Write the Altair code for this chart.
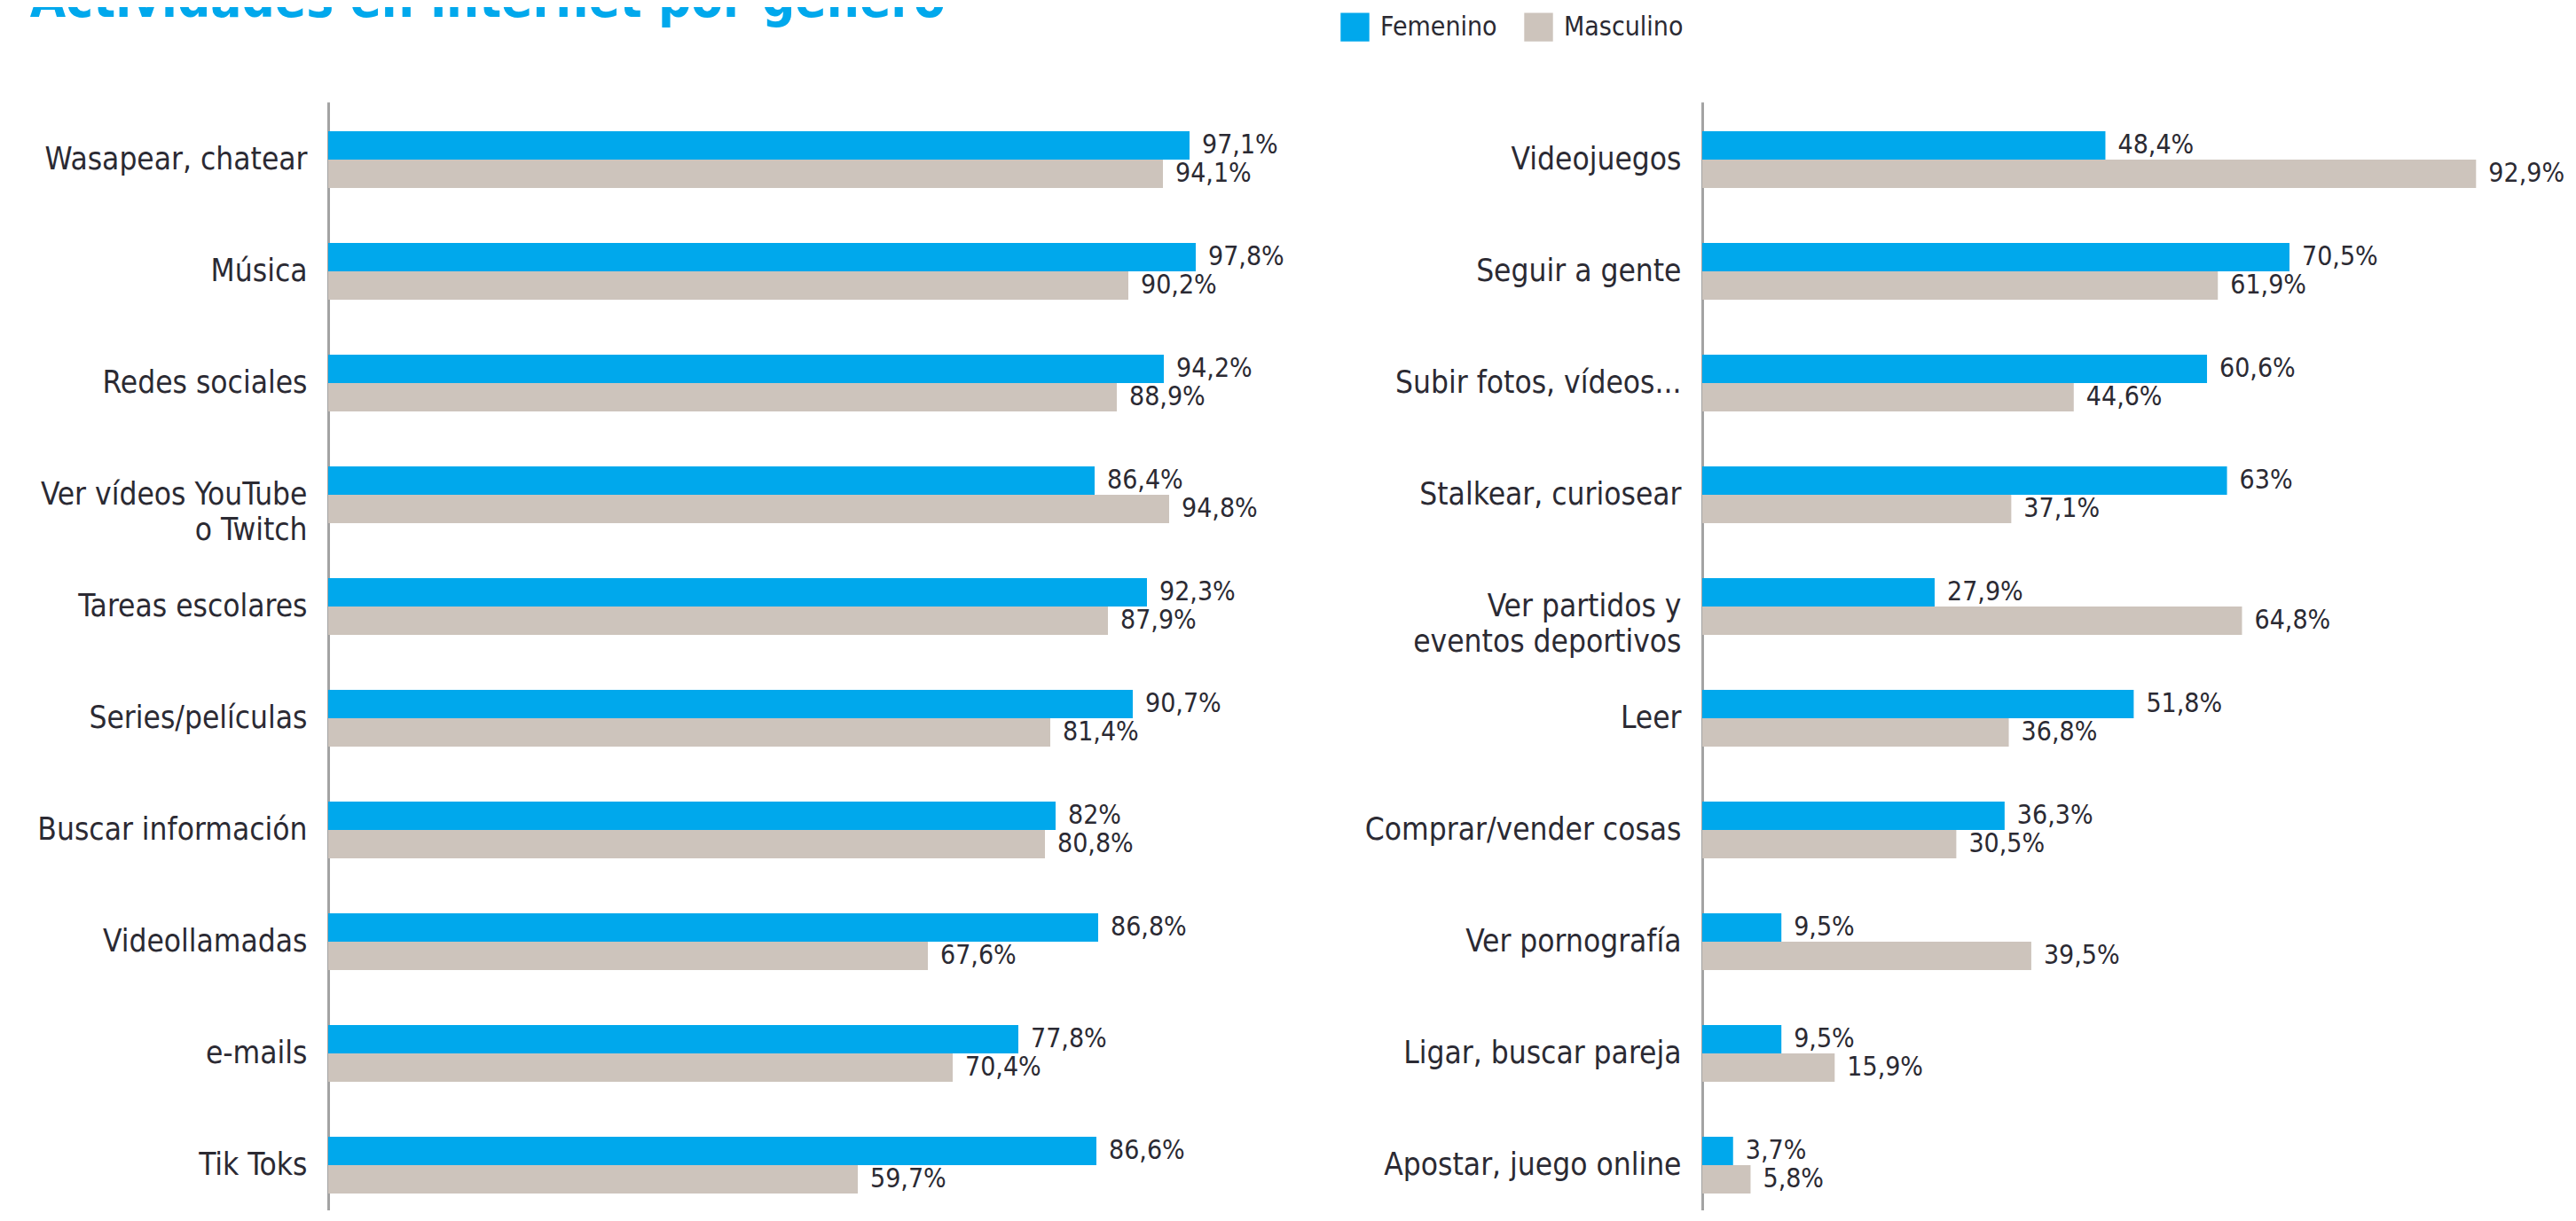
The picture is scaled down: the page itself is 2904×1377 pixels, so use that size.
import altair as alt
import pandas as pd

# ---------------- data ----------------
genders = ["Femenino", "Masculino"]

left_categories = [
    "Wasapear, chatear", "Música", "Redes sociales", "Ver vídeos YouTube|o Twitch",
    "Tareas escolares", "Series/películas", "Buscar información", "Videollamadas",
    "e-mails", "Tik Toks",
]
left_femenino = [97.1, 97.8, 94.2, 86.4, 92.3, 90.7, 82.0, 86.8, 77.8, 86.6]
left_masculino = [94.1, 90.2, 88.9, 94.8, 87.9, 81.4, 80.8, 67.6, 70.4, 59.7]

right_categories = [
    "Videojuegos", "Seguir a gente", "Subir fotos, vídeos...", "Stalkear, curiosear",
    "Ver partidos y|eventos deportivos", "Leer", "Comprar/vender cosas",
    "Ver pornografía", "Ligar, buscar pareja", "Apostar, juego online",
]
right_femenino = [48.4, 70.5, 60.6, 63.0, 27.9, 51.8, 36.3, 9.5, 9.5, 3.7]
right_masculino = [92.9, 61.9, 44.6, 37.1, 64.8, 36.8, 30.5, 39.5, 15.9, 5.8]

title_text = "Actividades en internet por género"

# ---------------- style ----------------
FONT = "DejaVu Sans Condensed, Liberation Sans Narrow, Liberation Sans, sans-serif"
BLUE = "#00A8EC"
GRAY = "#CDC4BC"
TEXT = "#2B2A33"
AXIS = "#A3A3A3"


def fmt(v):
    return f"{v:g}".replace(".", ",") + "%"


def make_df(cats, fem, mas):
    rows = []
    for c, f, m in zip(cats, fem, mas):
        for g, v in zip(genders, (f, m)):
            rows.append({"cat": c, "gender": g, "value": v, "label": fmt(v)})
    return pd.DataFrame(rows)


legend = alt.Legend(
    title=None, orient="none", legendX=1141, legendY=-101, direction="horizontal",
    symbolType="square", symbolSize=1050, symbolStrokeWidth=0,
    labelFontSize=30, labelFont=FONT, labelColor=TEXT, labelOffset=12,
    labelLimit=500, columnPadding=30, padding=0,
)


def panel(cats, fem, mas, width):
    df = make_df(cats, fem, mas)
    base = alt.Chart(df).encode(
        y=alt.Y(
            "cat:N", sort=cats,
            scale=alt.Scale(paddingInner=0.492, paddingOuter=0.206, align=0.635),
            axis=alt.Axis(
                title=None, ticks=False, domain=True, domainColor=AXIS, domainWidth=3,
                labelFont=FONT, labelFontSize=35, labelColor=TEXT, labelPadding=24,
                labelLimit=800, labelLineHeight=40,
                labelExpr="split(datum.label, '|')",
            ),
        ),
        yOffset=alt.YOffset("gender:N", sort=genders),
        x=alt.X("value:Q", scale=alt.Scale(domain=[0, 100]), axis=None),
    )
    bars = base.mark_bar().encode(
        color=alt.Color(
            "gender:N",
            scale=alt.Scale(domain=genders, range=[BLUE, GRAY]),
            legend=legend,
        )
    )
    text = base.mark_text(
        align="left", baseline="middle", dx=14, font=FONT, fontSize=30, color=TEXT
    ).encode(text="label:N")
    return alt.layer(bars, text).properties(width=width, height=1250)


left = panel(left_categories, left_femenino, left_masculino, 1000)
right = panel(right_categories, right_femenino, right_masculino, 939)

chart = (
    alt.hconcat(left, right, spacing=549, bounds="flush")
    .properties(
        title=alt.TitleParams(
            title_text, font=FONT, fontSize=58, fontWeight="bold", color=BLUE,
            anchor="start", dx=-8, offset=-17,
        ),
        padding={"top": -35, "left": 25, "right": 0, "bottom": 0},
        background="white",
    )
    .configure_view(stroke=None)
)

chart.save("out.html", embed_options={"renderer": "svg", "actions": False})
